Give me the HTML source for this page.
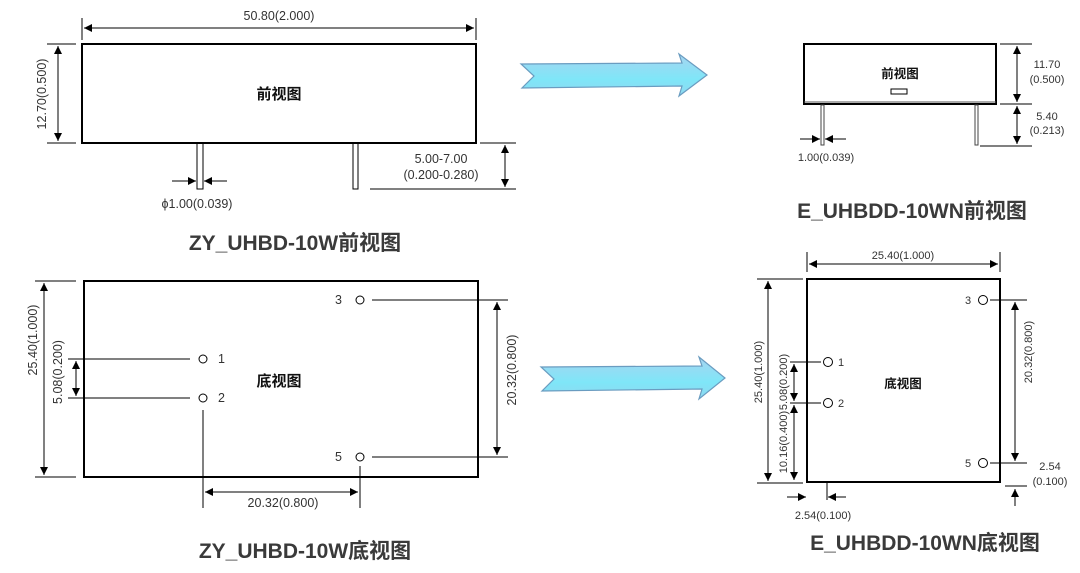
<!DOCTYPE html>
<html><head><meta charset="utf-8"><style>
html,body{margin:0;padding:0;background:#fff;width:1080px;height:573px;overflow:hidden}
svg{display:block}
text{font-family:"Liberation Sans","Noto Sans CJK SC",sans-serif;fill:#333}
.s{font-size:12.5px}
.xs{font-size:11px}
.cn{font-family:"Noto Sans CJK SC",sans-serif;font-size:15px;font-weight:bold;fill:#111}
.t{font-size:21px;font-weight:bold;font-family:"Liberation Sans","Noto Sans CJK SC",sans-serif;fill:#3a3a3a}
</style></head><body>
<svg width="1080" height="573" viewBox="0 0 1080 573" xmlns="http://www.w3.org/2000/svg">
<defs>
<marker id="a" viewBox="0 0 10 10" refX="10" refY="5" markerWidth="11" markerHeight="8" orient="auto-start-reverse" markerUnits="userSpaceOnUse"><path d="M0,0L10,5L0,10z" fill="#000"/></marker>
<linearGradient id="g" x1="0" y1="0" x2="0" y2="1"><stop offset="0" stop-color="#a7d4f0"/><stop offset="0.6" stop-color="#7fe6f8"/><stop offset="1" stop-color="#8fd8f0"/></linearGradient>
</defs>
<g stroke="#000" fill="none" stroke-width="1">
<rect x="82" y="44" width="394" height="99" stroke-width="2"/>
<rect x="197" y="143" width="6" height="46" stroke-width="1"/>
<rect x="353" y="143" width="5" height="46"/>
<line x1="82" y1="18" x2="82" y2="40"/><line x1="476" y1="18" x2="476" y2="40"/>
<line x1="84" y1="28" x2="474" y2="28" marker-start="url(#a)" marker-end="url(#a)"/>
<line x1="47" y1="44" x2="76" y2="44"/><line x1="47" y1="143" x2="76" y2="143"/>
<line x1="58" y1="46" x2="58" y2="141" marker-start="url(#a)" marker-end="url(#a)"/>
<line x1="480" y1="143" x2="516" y2="143"/><line x1="370" y1="189" x2="516" y2="189"/>
<line x1="505" y1="145" x2="505" y2="187" marker-start="url(#a)" marker-end="url(#a)"/>
<line x1="172" y1="181" x2="196" y2="181" marker-end="url(#a)"/>
<line x1="227" y1="181" x2="204" y2="181" marker-end="url(#a)"/>
<rect x="84" y="281" width="394" height="196" stroke-width="2"/>
<circle cx="203" cy="359" r="4"/><circle cx="203" cy="398" r="4"/>
<circle cx="360" cy="300" r="4"/><circle cx="360" cy="457" r="4"/>
<line x1="35" y1="281" x2="76" y2="281"/><line x1="35" y1="477" x2="76" y2="477"/>
<line x1="44" y1="283" x2="44" y2="475" marker-start="url(#a)" marker-end="url(#a)"/>
<line x1="68" y1="359" x2="190" y2="359"/><line x1="68" y1="398" x2="190" y2="398"/>
<line x1="76" y1="361" x2="76" y2="396" marker-start="url(#a)" marker-end="url(#a)"/>
<line x1="372" y1="300" x2="508" y2="300"/><line x1="372" y1="457" x2="508" y2="457"/>
<line x1="497" y1="302" x2="497" y2="455" marker-start="url(#a)" marker-end="url(#a)"/>
<line x1="203" y1="410" x2="203" y2="508"/><line x1="360" y1="466" x2="360" y2="508"/>
<line x1="205" y1="492" x2="358" y2="492" marker-start="url(#a)" marker-end="url(#a)"/>
<rect x="804" y="44" width="192" height="60" stroke-width="2"/>
<line x1="804" y1="102" x2="996" y2="102" stroke="#555" stroke-width="1"/>
<rect x="891" y="89" width="16" height="5"/>
<rect x="821" y="105" width="3" height="40" stroke="#444"/>
<rect x="975" y="105" width="3" height="40" stroke="#444"/>
<line x1="1000" y1="44" x2="1032" y2="44"/><line x1="1000" y1="104" x2="1032" y2="104"/><line x1="980" y1="146" x2="1032" y2="146"/>
<line x1="1017" y1="46" x2="1017" y2="102" marker-start="url(#a)" marker-end="url(#a)"/>
<line x1="1017" y1="106" x2="1017" y2="144" marker-start="url(#a)" marker-end="url(#a)"/>
<line x1="800" y1="139" x2="820" y2="139" marker-end="url(#a)"/>
<line x1="846" y1="139" x2="825" y2="139" marker-end="url(#a)"/>
<rect x="807" y="279" width="193" height="203" stroke-width="2"/>
<line x1="807" y1="252" x2="807" y2="272"/><line x1="1000" y1="252" x2="1000" y2="272"/>
<line x1="809" y1="264" x2="998" y2="264" marker-start="url(#a)" marker-end="url(#a)"/>
<circle cx="828" cy="362" r="4.5"/><circle cx="828" cy="403" r="4.5"/>
<circle cx="983" cy="300" r="4.5"/><circle cx="983" cy="463" r="4.5"/>
<line x1="757" y1="279" x2="803" y2="279"/><line x1="757" y1="483" x2="803" y2="483"/>
<line x1="768" y1="281" x2="768" y2="481" marker-start="url(#a)" marker-end="url(#a)"/>
<line x1="790" y1="362" x2="821" y2="362"/><line x1="790" y1="403" x2="821" y2="403"/>
<line x1="794" y1="364" x2="794" y2="401" marker-start="url(#a)" marker-end="url(#a)"/>
<line x1="794" y1="405" x2="794" y2="480" marker-start="url(#a)" marker-end="url(#a)"/>
<line x1="990" y1="300" x2="1027" y2="300"/><line x1="990" y1="463" x2="1027" y2="463"/>
<line x1="1015" y1="302" x2="1015" y2="461" marker-start="url(#a)" marker-end="url(#a)"/>
<line x1="1005" y1="486" x2="1027" y2="486"/>
<line x1="1015" y1="506" x2="1015" y2="489" marker-end="url(#a)"/>
<line x1="827" y1="483" x2="827" y2="500"/>
<line x1="787" y1="497" x2="806" y2="497" marker-end="url(#a)"/>
<line x1="846" y1="497" x2="828" y2="497" marker-end="url(#a)"/>
</g>
<path d="M521,64 L682,63 L679,54 L707,75 L679,96 L682,86 L522,88 L534,76 Z" fill="url(#g)" stroke="#6a9cc0" stroke-width="1.2"/>
<path d="M541,367 L702,366 L699,357 L725,378 L699,399 L702,389 L542,391 L554,379 Z" fill="url(#g)" stroke="#6a9cc0" stroke-width="1.2"/>
<text class="s" x="279" y="20" text-anchor="middle">50.80(2.000)</text>
<text class="s" transform="translate(46,94) rotate(-90)" text-anchor="middle">12.70(0.500)</text>
<text class="cn" x="279" y="99" text-anchor="middle">前视图</text>
<text class="s" x="441" y="163" text-anchor="middle">5.00-7.00</text>
<text class="s" x="441" y="179" text-anchor="middle">(0.200-0.280)</text>
<text class="s" x="197" y="208" text-anchor="middle">ϕ1.00(0.039)</text>
<text class="t" x="295" y="250" text-anchor="middle">ZY_UHBD-10W前视图</text>
<text class="s" transform="translate(37,340) rotate(-90)" text-anchor="middle">25.40(1.000)</text>
<text class="s" transform="translate(62,372) rotate(-90)" text-anchor="middle">5.08(0.200)</text>
<text class="s" transform="translate(516,370) rotate(-90)" text-anchor="middle">20.32(0.800)</text>
<text class="s" x="218" y="363">1</text><text class="s" x="218" y="402">2</text>
<text class="s" x="335" y="304">3</text><text class="s" x="335" y="461">5</text>
<text class="cn" x="279" y="386" text-anchor="middle">底视图</text>
<text class="s" x="283" y="507" text-anchor="middle">20.32(0.800)</text>
<text class="t" x="305" y="558" text-anchor="middle">ZY_UHBD-10W底视图</text>
<text class="cn" x="900" y="78" text-anchor="middle" style="font-size:12.5px">前视图</text>
<text class="xs" x="1047" y="68" text-anchor="middle">11.70</text>
<text class="xs" x="1047" y="83" text-anchor="middle">(0.500)</text>
<text class="xs" x="1047" y="120" text-anchor="middle">5.40</text>
<text class="xs" x="1047" y="134" text-anchor="middle">(0.213)</text>
<text class="xs" x="826" y="161" text-anchor="middle">1.00(0.039)</text>
<text class="t" x="912" y="218" text-anchor="middle">E_UHBDD-10WN前视图</text>
<text class="xs" x="903" y="259" text-anchor="middle">25.40(1.000)</text>
<text class="xs" transform="translate(762,372) rotate(-90)" text-anchor="middle">25.40(1.000)</text>
<text class="xs" transform="translate(787,382) rotate(-90)" text-anchor="middle">5.08(0.200)</text>
<text class="xs" transform="translate(787,442) rotate(-90)" text-anchor="middle">10.16(0.400)</text>
<text class="xs" transform="translate(1032,352) rotate(-90)" text-anchor="middle">20.32(0.800)</text>
<text class="xs" x="838" y="366">1</text><text class="xs" x="838" y="407">2</text>
<text class="xs" x="965" y="304">3</text><text class="xs" x="965" y="467">5</text>
<text class="cn" x="903" y="388" text-anchor="middle" style="font-size:12.5px">底视图</text>
<text class="xs" x="1050" y="470" text-anchor="middle">2.54</text>
<text class="xs" x="1050" y="485" text-anchor="middle">(0.100)</text>
<text class="xs" x="823" y="519" text-anchor="middle">2.54(0.100)</text>
<text class="t" x="925" y="550" text-anchor="middle">E_UHBDD-10WN底视图</text>
</svg>
</body></html>
